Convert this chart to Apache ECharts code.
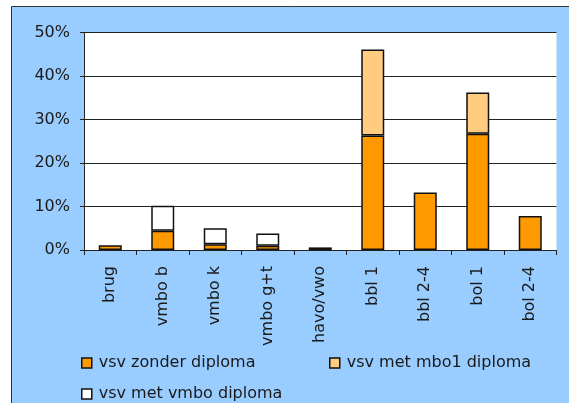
<!DOCTYPE html>
<html><head><meta charset="utf-8">
<script src="https://cdn.jsdelivr.net/npm/echarts@6/dist/echarts.min.js"></script>
<style>html,body{margin:0;padding:0;background:#fff}#c{width:569px;height:403px}</style>
</head><body><div id="c"></div>
<script>
const categories = ['brug','vmbo b','vmbo k','vmbo g+t','havo/vwo','bbl 1','bbl 2-4','bol 1','bol 2-4'];
const seriesNames = ['vsv zonder diploma','vsv met mbo1 diploma','vsv met vmbo diploma'];
const zonder = [1.1, 4.4, 1.3, 1.0, 0.6, 26.3, 13.2, 26.7, 7.8];
const mbo1 = [null, null, null, null, null, 19.8, null, 9.5, null];
const vmbo = [null, 5.8, 3.7, 2.8, null, null, null, null, null];
const yTicks = [0, 10, 20, 30, 40, 50];
const colors = ['#FF9900', '#FFCC80', '#FFFFFF'];

const FONT = 'DejaVu Sans';
const chart = echarts.init(document.getElementById('c'), null, {renderer: 'canvas'});
const legendCommon = {
  icon: 'rect', itemWidth: 10, itemHeight: 10, orient: 'horizontal',
  textStyle: {fontFamily: FONT, fontSize: 16, color: '#1a1a1a', padding: [0,0,0,2]},
  itemStyle: {borderColor: '#111', borderWidth: 1.5}
};
function mkSeries(name, data, color) {
  return {
    name: name, type: 'bar', stack: 'total', data: data, barWidth: 23,
    itemStyle: {color: color, borderColor: '#111', borderWidth: 1.5},
    emphasis: {disabled: true}
  };
}
chart.setOption({
  animation: false,
  backgroundColor: '#fff',
  graphic: [{
    type: 'rect', z: -10, silent: true,
    shape: {x: 11.5, y: 6.5, width: 600, height: 500},
    style: {fill: '#99CCFF', stroke: '#333', lineWidth: 1}
  }],
  grid: {left: 84, right: 12.5, top: 32.5, bottom: 153, show: true, backgroundColor: '#fff', borderWidth: 0},
  legend: [
    Object.assign({}, legendCommon, {data: [seriesNames[0]], left: 76, top: 350}),
    Object.assign({}, legendCommon, {data: [seriesNames[1]], left: 324, top: 350}),
    Object.assign({}, legendCommon, {data: [seriesNames[2]], left: 76, top: 381})
  ],
  xAxis: {
    type: 'category', data: categories,
    axisLine: {lineStyle: {color: '#222', width: 1}},
    axisTick: {show: true, alignWithLabel: false, length: 5, lineStyle: {color: '#222'}},
    axisLabel: {rotate: 90, margin: 16, fontFamily: FONT, fontSize: 16, color: '#1a1a1a', interval: 0}
  },
  yAxis: {
    type: 'value', min: yTicks[0], max: yTicks[yTicks.length-1], interval: 10,
    axisLine: {show: true, lineStyle: {color: '#222', width: 1}},
    axisTick: {show: true, length: 4, lineStyle: {color: '#222'}},
    splitLine: {show: true, lineStyle: {color: '#222', width: 1}},
    axisLabel: {margin: 14, fontFamily: FONT, fontSize: 16, color: '#1a1a1a', formatter: v => v + '%'}
  },
  series: [
    mkSeries(seriesNames[0], zonder, colors[0]),
    mkSeries(seriesNames[1], mbo1, colors[1]),
    mkSeries(seriesNames[2], vmbo, colors[2])
  ]
});
</script></body></html>
